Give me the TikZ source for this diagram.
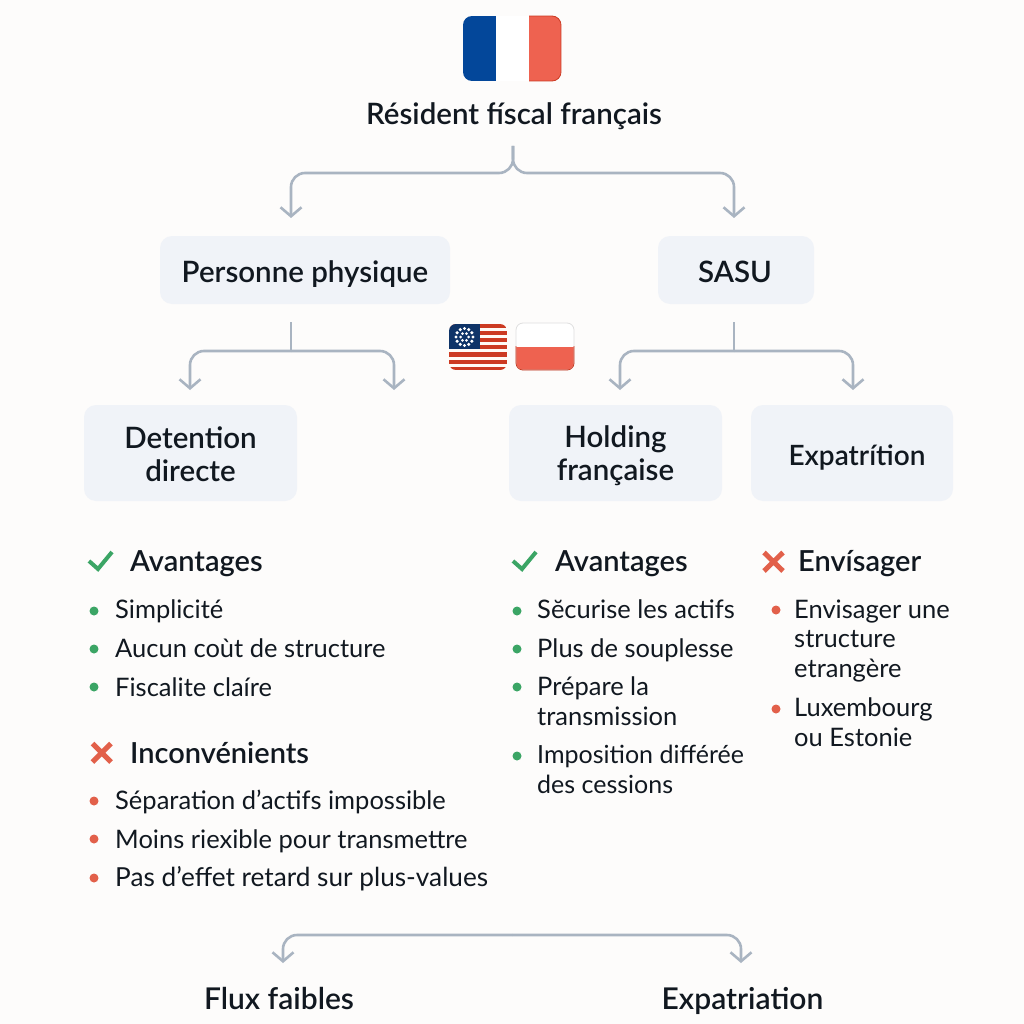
\documentclass[tikz,border=0pt]{standalone}
\usepackage{fontspec}
\setmainfont[BoldFont={Lato Semibold}]{Lato}
\usetikzlibrary{arrows.meta}
\definecolor{pagebg}{HTML}{FDFCFB}
\definecolor{boxbg}{HTML}{F0F3F8}
\definecolor{linegray}{HTML}{A9B4C1}
\definecolor{inkdark}{HTML}{111820}
\definecolor{okgreen}{HTML}{3BA565}
\definecolor{badred}{HTML}{E2604A}
\definecolor{frblue}{HTML}{03479A}
\definecolor{frred}{HTML}{EE6250}
\definecolor{usblue}{HTML}{0F3468}
\definecolor{usred}{HTML}{CC3A22}
\tikzset{
  box/.style={fill=boxbg, rounded corners=12pt, align=center, inner sep=0pt, text=inkdark, font=\fontsize{29.5}{33}\selectfont\bfseries, execute at begin node={\rule{0pt}{29pt}}},
  plain/.style={anchor=base, inner sep=0pt, text=inkdark, font=\fontsize{30}{33}\selectfont\bfseries},
  head/.style={anchor=base west, inner sep=0pt, text=inkdark, font=\fontsize{29}{32}\selectfont\bfseries},
  item/.style={anchor=base west, inner sep=0pt, align=left, text=inkdark, font=\fontsize{25.5}{29.5}\selectfont},
  gooddot/.style={circle, fill=okgreen, minimum size=9pt, inner sep=0pt},
  baddot/.style={circle, fill=badred, minimum size=9pt, inner sep=0pt},
  link/.style={draw=linegray, line width=2.6pt, rounded corners=14pt, -{Straight Barb[length=9pt,width=21pt,line width=2.6pt]}},
  stem/.style={draw=linegray, line width=2.6pt},
  goodmark/.style={draw=okgreen, line width=4pt},
  badmark/.style={draw=badred, line width=5pt}
}
\begin{document}
\begin{tikzpicture}[x=1pt,y=-1pt]
    \useasboundingbox[fill=pagebg] (0,0) rectangle (1024,1024);

    % flags
    \begin{scope}
        \clip[rounded corners=9pt] (463,16) rectangle (561,81);
        \fill[frblue] (463,16) rectangle (496,81);
        \fill[white] (496,16) rectangle (529,81);
        \fill[frred] (529,16) rectangle (561,81);
    \end{scope}
    \begin{scope}
        \clip (529,10) rectangle (565,85);
        \draw[usred, line width=.8pt, rounded corners=9pt] (463,16) rectangle (561,81);
    \end{scope}
    \begin{scope}
        \clip[rounded corners=7pt] (449,324) rectangle (507,370);
        \fill[white!96!orange] (449,324) rectangle (507,370);
        \foreach \y/\h in {324/4,331/4,338/4,345/4,352/5,360/4,367/3} \fill[usred] (449,\y) rectangle (507,\y+\h);
        \fill[usblue] (449,324) rectangle (480,349);
        \foreach \a in {0,30,...,330} \fill[white] (464.5,337)+(\a:8.5) circle (1.7pt);
        \foreach \a in {0,60,...,300} \fill[white] (464.5,337)+(\a:4) circle (1.5pt);
    \end{scope}
    \begin{scope}
        \clip[rounded corners=7pt] (516,323) rectangle (574,370);
        \fill[white] (516,323) rectangle (574,346.5);
        \fill[frred] (516,346.5) rectangle (574,370);
    \end{scope}
    \draw[gray!25, line width=.8pt, rounded corners=7pt] (516,323) rectangle (574,370);
    \begin{scope}
        \clip (510,346.5) rectangle (580,375);
        \draw[usred, line width=.8pt, rounded corners=7pt] (516,323) rectangle (574,370);
    \end{scope}

    % main nodes
    \node[plain, font=\fontsize{29.5}{33}\selectfont\bfseries] (resident) at (514,125) {Résident físcal français};
    \node[box, minimum width=290pt, minimum height=68pt] (pp) at (305,270) {Personne physique};
    \node[box, minimum width=156pt, minimum height=68pt] (sasu) at (736,270) {\rule[-4pt]{0pt}{0pt}\hspace*{-2pt}SASU};
    \node[box, minimum width=213pt, minimum height=96pt] (detention) at (190.5,453) {\rule{0pt}{30pt}Detention\\\rule[-6pt]{0pt}{0pt}directe};
    \node[box, minimum width=213pt, minimum height=96pt] (holding) at (615.5,453) {\rule{0pt}{33pt}Holding\\\rule[-11pt]{0pt}{0pt}française};
    \node[box, minimum width=202pt, minimum height=96pt, font=\fontsize{28}{33}\selectfont\bfseries] (expat) at (852,453) {\hspace*{10pt}Expatrítion};
    \node[plain] (flux) at (279,1009) {Flux faibles};
    \node[plain] (expatriation) at (742.5,1009) {Expatriation};

    % connector ends
    \coordinate (top) at (513,146);
    \coordinate (ppdown) at (291,322);
    \coordinate (sasudown) at (734,322);
    \coordinate (ppl) at (190,390);
    \coordinate (ppr) at (394,390);
    \coordinate (sasul) at (620,390);
    \coordinate (sasur) at (853,390);
    \coordinate (bottoml) at (283,963);
    \coordinate (bottomr) at (741,963);

    \draw[link] (top) -- (513,173) -- (291,173) -- (291,218);
    \draw[link] (top) -- (513,173) -- (734,173) -- (734,218);
    \draw[stem] (ppdown) -- (291,351);
    \draw[link] (291,351) -- (190,351) -- (ppl);
    \draw[link] (291,351) -- (394,351) -- (ppr);
    \draw[stem] (sasudown) -- (734,351);
    \draw[link] (734,351) -- (620,351) -- (sasul);
    \draw[link] (734,351) -- (853,351) -- (sasur);
    \draw[link] (512,935) -- (283,935) -- (bottoml);
    \draw[link] (512,935) -- (741,935) -- (bottomr);

    % left column
    \draw[goodmark] (89,561) -- (98,569) -- (112,552);
    \node[head] (adv1) at (130,571) {Avantages};
    \node[gooddot] (d1) at (94,611) {};
    \node[item] (t1) at (115,618) {Simplicité};
    \node[gooddot] (d2) at (94,649) {};
    \node[item] (t2) at (115,657) {Aucun coùt de structure};
    \node[gooddot] (d3) at (94,687) {};
    \node[item] (t3) at (115,696) {Fiscalite claíre};
    \draw[badmark] (92.500,743.500) -- (111,762) (111,743.500) -- (92.500,762);
    \node[head] (inc) at (130,763) {Inconvénients};
    \node[baddot] (d4) at (94,801) {};
    \node[item] (t4) at (115,809) {Séparation d’actifs impossible};
    \node[baddot] (d5) at (94,839) {};
    \node[item] (t5) at (115,848) {Moins riexible pour transmettre};
    \node[baddot] (d6) at (94,878) {};
    \node[item, font=\fontsize{26.2}{29.5}\selectfont] (t6) at (115,886) {Pas d’effet retard sur plus-values};

    % middle column
    \draw[goodmark] (513,561) -- (522,569) -- (536,552);
    \node[head] (adv2) at (555,571) {Avantages};
    \node[gooddot] (d7) at (517,611) {};
    \node[item] (t7) at (537,618) {Sĕcurise les actifs};
    \node[gooddot] (d8) at (517,649) {};
    \node[item] (t8) at (537,657) {Plus de souplesse};
    \node[gooddot] (d9) at (517,687) {};
    \node[item] (t9) at (537,725) {Prépare la\\transmission};
    \node[gooddot] (d10) at (517,756) {};
    \node[item, font=\fontsize{25}{29.5}\selectfont] (t10) at (537,793) {Imposition différée\\des cessions};

    % right column
    \draw[badmark] (764,552.500) -- (783,571) (783,552.500) -- (764,571);
    \node[head] (env) at (798,571) {Envísager};
    \node[baddot] (d11) at (776,610) {};
    \node[item] (t11) at (794,677) {Envisager une\\structure\\etrangère};
    \node[baddot] (d12) at (776,709) {};
    \node[item] (t12) at (794,746) {Luxembourg\\ou Estonie};
\end{tikzpicture}
\end{document}
